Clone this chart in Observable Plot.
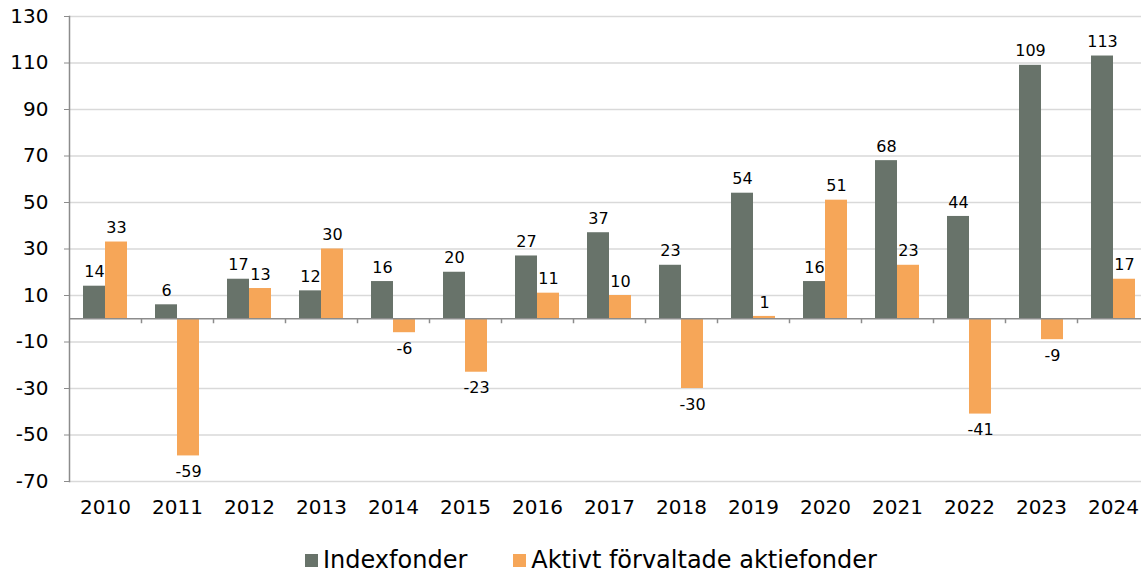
<!DOCTYPE html>
<html><head><meta charset="utf-8">
<script src="https://cdn.jsdelivr.net/npm/d3@7"></script>
<script src="https://cdn.jsdelivr.net/npm/@observablehq/plot@0.6"></script>
<style>
body{margin:0;overflow:hidden;background:#fff;font-family:"DejaVu Sans",Verdana,sans-serif;}
#wrap{position:relative;width:1141px;height:573px;overflow:hidden;}
#legend{position:absolute;left:305px;top:546px;display:flex;align-items:center;font-size:24px;color:#000;white-space:nowrap;}
#legend .item{display:flex;align-items:center;margin-right:46px;}
#legend .sw{display:inline-block;width:13px;height:13px;margin-right:5px;}
</style></head><body><div id="wrap"><div id="chart"></div><div id="legend"></div></div>
<script>
const years = ["2010","2011","2012","2013","2014","2015","2016","2017","2018","2019","2020","2021","2022","2023","2024"];
const indexfonder = [14,6,17,12,16,20,27,37,23,54,16,68,44,109,113];
const aktiva = [33,-59,13,30,-6,-23,11,10,-30,1,51,23,-41,-9,17];
const seriesNames = ["Indexfonder","Aktivt förvaltade aktiefonder"];
const colors = ["#68736a","#f6a658"];
const yTicks = d3.range(-70, 131, 20);

const idx = years.map((y, i) => ({year: y, series: seriesNames[0], value: indexfonder[i]}));
const akt = years.map((y, i) => ({year: y, series: seriesNames[1], value: aktiva[i]}));
const labelStyle = {fontSize: 16, fill: "#000", text: d => String(d.value)};

const chart = Plot.plot({
  width: 1141,
  height: 530,
  marginTop: 16,
  marginBottom: 49,
  marginLeft: 69,
  marginRight: 0,
  style: {fontFamily: "DejaVu Sans, Verdana, sans-serif", background: "#fff", overflow: "hidden"},
  x: {type: "band", domain: years, range: [69, 1149], paddingInner: 0.389, paddingOuter: 0.194, label: null},
  y: {domain: [-70, 130], label: null},
  marks: [
    Plot.ruleY(yTicks, {stroke: "#d9d9d9", strokeWidth: 1.5}),
    Plot.barY(idx, {x: "year", y: "value", fill: colors[0], insetRight: 22}),
    Plot.barY(akt, {x: "year", y: "value", fill: colors[1], insetLeft: 22}),
    Plot.ruleY([0], {stroke: "#8c8c8c", strokeWidth: 1.5}),
    Plot.ruleX(years.slice(0, -1), {x: d => d, y1: 0, y2: 0, insetBottom: -5, dx: 36, stroke: "#8c8c8c", strokeWidth: 1.5}),
    Plot.frame({anchor: "left", stroke: "#8c8c8c", strokeWidth: 1.5}),
    Plot.axisY({ticks: yTicks, tickFormat: d => String(d), tickSize: 5, tickPadding: 16, fontSize: 20, stroke: "#8c8c8c", fill: "#000"}),
    Plot.axisX({tickSize: 0, tickPadding: 18, fontSize: 20, fill: "#000"}),
    Plot.text(idx.filter(d => d.value >= 0), {x: "year", y: "value", dx: -11, dy: -14, ...labelStyle}),
    Plot.text(idx.filter(d => d.value < 0), {x: "year", y: "value", dx: -11, dy: 16, ...labelStyle}),
    Plot.text(akt.filter(d => d.value >= 0), {x: "year", y: "value", dx: 11, dy: -14, ...labelStyle}),
    Plot.text(akt.filter(d => d.value < 0), {x: "year", y: "value", dx: 11, dy: 16, ...labelStyle})
  ]
});
document.getElementById("chart").appendChild(chart);

const legend = document.getElementById("legend");
seriesNames.forEach((name, i) => {
  const item = document.createElement("span");
  item.className = "item";
  const sw = document.createElement("span");
  sw.className = "sw";
  sw.style.background = colors[i];
  item.appendChild(sw);
  item.appendChild(document.createTextNode(name));
  legend.appendChild(item);
});
</script>
</body></html>
